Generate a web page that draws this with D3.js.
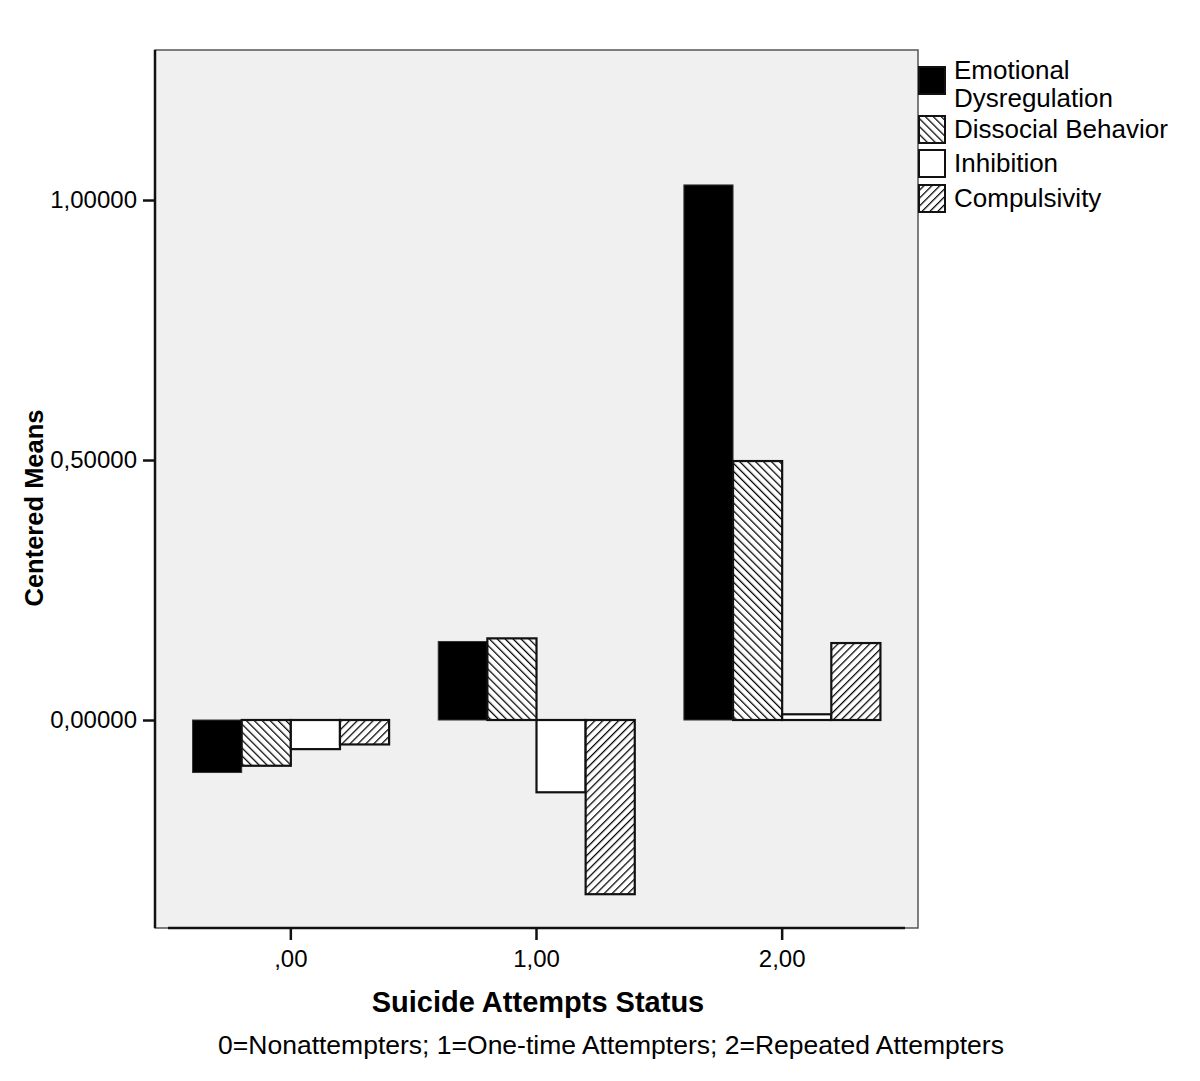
<!DOCTYPE html>
<html>
    <head>
        <meta charset="utf-8">
        <style>
          body { margin: 0; background: #fff; }
          text { font-family: "Liberation Sans", Arial, sans-serif; fill: #000; }
        </style>
    </head>
    <body>
        <svg width="1200" height="1081"></svg>
        <script src="https://d3js.org/d3.v7.min.js"></script>
        <script>
          // data
          var groups = [",00", "1,00", "2,00"];
          var seriesNames = ["Emotional Dysregulation", "Dissocial Behavior", "Inhibition", "Compulsivity"];
          var emotional = [-0.101, 0.151, 1.029];
          var dissocial = [-0.088, 0.157, 0.498];
          var inhibition = [-0.056, -0.139, 0.011];
          var compulsivity = [-0.047, -0.335, 0.148];
          var yTicks = [0, 0.5, 1.0];
          var yTickLabels = ["0,00000", "0,50000", "1,00000"];
          var legendLines = [["Emotional", "Dysregulation"], ["Dissocial Behavior"], ["Inhibition"], ["Compulsivity"]];

          var values = [emotional, dissocial, inhibition, compulsivity];
          var data = [];
          groups.forEach(function(g, i) {
            seriesNames.forEach(function(s, j) {
              data.push({group: g, series: s, value: values[j][i]});
            });
          });

          var svg = d3.select("svg");
          var panel = {left: 155, top: 50, right: 918, bottom: 928};

          // scales
          var x = d3.scaleBand()
              .domain(groups)
              .range([168, 905])
              .padding(0);

          var x1 = d3.scaleBand()
              .domain(seriesNames)
              .range([x.bandwidth() * 0.1, x.bandwidth() * 0.9])
              .padding(0);

          var y = d3.scaleLinear()
              .domain([-0.4, 1.2885])
              .range([panel.bottom, panel.top]);

          // hatch patterns
          var defs = svg.append("defs");
          function hatch(id, dir) {
            var s = 5.6;
            var p = defs.append("pattern")
                .attr("id", id)
                .attr("patternUnits", "userSpaceOnUse")
                .attr("width", s)
                .attr("height", s)
                .attr("patternTransform", "rotate(" + dir + ")");
            p.append("rect").attr("width", s).attr("height", s).attr("fill", "#fff");
            p.append("line")
                .attr("x1", 0).attr("y1", 0).attr("x2", 0).attr("y2", s)
                .attr("stroke", "#000").attr("stroke-width", 2.5);
          }
          hatch("hatchBack", -45);
          hatch("hatchFwd", 45);

          var fills = {
            "Emotional Dysregulation": "#000",
            "Dissocial Behavior": "url(#hatchBack)",
            "Inhibition": "#fff",
            "Compulsivity": "url(#hatchFwd)"
          };

          // panel background
          svg.append("rect")
              .attr("x", panel.left)
              .attr("y", panel.top)
              .attr("width", panel.right - panel.left)
              .attr("height", panel.bottom - panel.top)
              .attr("fill", "#f0f0f0")
              .attr("stroke", "#555")
              .attr("stroke-width", 1.5);

          // bars
          svg.append("g")
            .selectAll("rect")
            .data(data)
            .join("rect")
              .attr("x", function(d) { return x(d.group) + x1(d.series); })
              .attr("width", x1.bandwidth())
              .attr("y", function(d) { return y(Math.max(0, d.value)); })
              .attr("height", function(d) { return Math.abs(y(d.value) - y(0)); })
              .attr("fill", function(d) { return fills[d.series]; })
              .attr("stroke", function(d) { return d.series === "Emotional Dysregulation" ? "#333" : "#111"; })
              .attr("stroke-width", function(d) { return d.series === "Emotional Dysregulation" ? 1 : 2.2; });

          // y axis
          var yAxis = d3.axisLeft(y)
              .tickValues(yTicks)
              .tickSize(12)
              .tickPadding(6)
              .tickFormat(function(d, i) { return yTickLabels[i]; });

          var gy = svg.append("g")
              .attr("transform", "translate(" + panel.left + ",0)")
              .call(yAxis);
          gy.select(".domain").attr("d", "M0," + panel.top + "V" + panel.bottom).attr("stroke", "#111").attr("stroke-width", 2.5);
          gy.selectAll(".tick line").attr("stroke", "#111").attr("stroke-width", 2.5);
          gy.selectAll(".tick text").style("font-size", "24px").style("font-family", "'Liberation Sans', Arial, sans-serif").attr("fill", "#000");

          // x axis
          var xAxis = d3.axisBottom(x)
              .tickSize(12)
              .tickPadding(10);

          var gx = svg.append("g")
              .attr("transform", "translate(0," + panel.bottom + ")")
              .call(xAxis);
          gx.select(".domain").attr("d", "M168,0H905").attr("stroke", "#111").attr("stroke-width", 2.5);
          gx.selectAll(".tick line").attr("stroke", "#111").attr("stroke-width", 2.5);
          gx.selectAll(".tick text").style("font-size", "24px").style("font-family", "'Liberation Sans', Arial, sans-serif").attr("fill", "#000");

          // titles
          svg.append("text")
              .attr("transform", "translate(43,508) rotate(-90)")
              .attr("text-anchor", "middle")
              .style("font-size", "25.5px")
              .style("font-weight", "bold")
              .text("Centered Means");

          svg.append("text")
              .attr("x", 538)
              .attr("y", 1012)
              .attr("text-anchor", "middle")
              .style("font-size", "29px")
              .style("font-weight", "bold")
              .text("Suicide Attempts Status");

          svg.append("text")
              .attr("x", 611)
              .attr("y", 1054)
              .attr("text-anchor", "middle")
              .style("font-size", "26.5px")
              .text("0=Nonattempters; 1=One-time Attempters; 2=Repeated Attempters");

          // legend
          var legendY = [67, 116, 150, 185];
          var legend = svg.append("g");
          seriesNames.forEach(function(s, i) {
            legend.append("rect")
                .attr("x", 919)
                .attr("y", legendY[i])
                .attr("width", 26)
                .attr("height", 27)
                .attr("fill", fills[s])
                .attr("stroke", "#111")
                .attr("stroke-width", 2);
            var lines = legendLines[i];
            lines.forEach(function(line, k) {
              legend.append("text")
                  .attr("x", 954)
                  .attr("y", lines.length > 1 ? 79 + k * 28 : legendY[i] + 22)
                  .style("font-size", "26px")
                  .text(line);
            });
          });
        </script>
    </body>
</html>
